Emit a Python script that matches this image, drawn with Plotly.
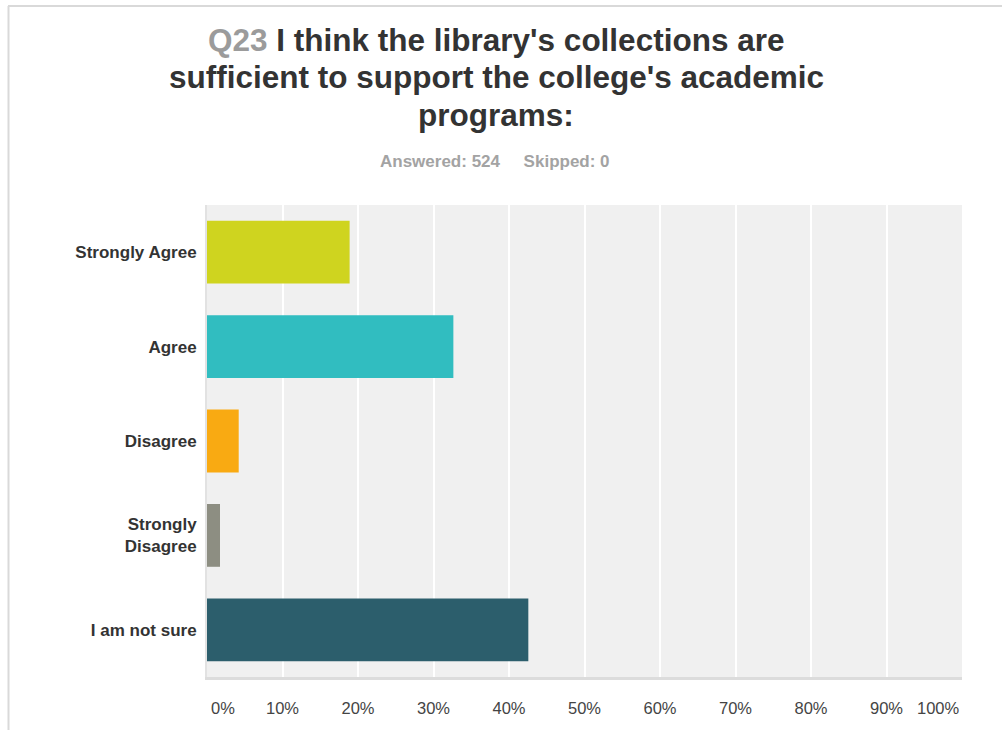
import plotly.graph_objects as go

# Survey responses (percent of 524 answered)
categories = ["Strongly Agree", "Agree", "Disagree", "Strongly<br>Disagree", "I am not sure"]
percent = [18.89, 32.63, 4.20, 1.72, 42.56]
bar_colors = ["#cfd41f", "#31bdc0", "#f9aa12", "#8d8e82", "#2c5e6c"]
tick_values = [10, 20, 30, 40, 50, 60, 70, 80, 90]
tick_labels = ["10%", "20%", "30%", "40%", "50%", "60%", "70%", "80%", "90%"]
answered = 524
skipped = 0
title_lines = [
    "<span style='color:#9b9b9b'>Q23</span> I think the library's collections are",
    "sufficient to support the college's academic",
    "programs:",
]

W, H = 1002, 730
M_L, M_R, M_T, M_B = 207, 40, 205, 53
PW, PH = W - M_L - M_R, H - M_T - M_B


def px_to_paper_x(px):
    return (px - M_L) / PW


def px_to_paper_y(py):
    return (H - M_B - py) / PH


FONT = "Liberation Sans, Arial, sans-serif"

fig = go.Figure(
    go.Bar(
        x=percent,
        y=categories,
        orientation="h",
        marker=dict(color=bar_colors, line=dict(width=0)),
        hovertemplate="%{y}: %{x:.2f}%<extra></extra>",
    )
)

fig.update_layout(
    width=W,
    height=H,
    margin=dict(l=M_L, r=M_R, t=M_T, b=M_B),
    paper_bgcolor="white",
    plot_bgcolor="#f0f0f0",
    bargap=0.335,
    showlegend=False,
    font=dict(family=FONT),
)

fig.update_xaxes(
    range=[0, 100],
    tickvals=tick_values,
    ticktext=tick_labels,
    tickfont=dict(family=FONT, size=16.5, color="#444444"),
    ticks="",
    ticklabelstandoff=14,
    showgrid=True,
    gridcolor="white",
    gridwidth=2,
    zeroline=False,
    showline=True,
    linecolor="#dcdcdc",
    linewidth=3,
    fixedrange=True,
)

fig.update_yaxes(
    autorange="reversed",
    tickfont=dict(family=FONT, size=17, color="#333333", weight="bold"),
    ticks="",
    ticklabelstandoff=5,
    showgrid=False,
    zeroline=False,
    showline=True,
    linecolor="#e2e2e2",
    linewidth=2,
    fixedrange=True,
)

# Title, one line per annotation so the line spacing stays tight
for text, cy in zip(title_lines, [40, 77, 115]):
    fig.add_annotation(
        x=px_to_paper_x(496), xref="paper",
        y=px_to_paper_y(cy), yref="paper",
        text=text, showarrow=False, xanchor="center", yanchor="middle",
        font=dict(family=FONT, size=31.5, color="#333333", weight="bold"),
    )

# End labels of the percent axis sit inside the plot edges
for val, label, anchor in [(0, "0%", "left"), (100, "100%", "right")]:
    fig.add_annotation(
        x=val, xref="x", y=0, yref="paper",
        text=label, showarrow=False,
        xanchor=anchor, yanchor="middle", yshift=-31,
        xshift=2 if anchor == "left" else 0,
        font=dict(family=FONT, size=16.5, color="#444444"),
    )

# Response counts under the title
fig.add_annotation(
    x=px_to_paper_x(495), xref="paper",
    y=px_to_paper_y(161), yref="paper",
    text=f"Answered: {answered}&nbsp;&nbsp;&nbsp;&nbsp;&nbsp;Skipped: {skipped}",
    showarrow=False, xanchor="center", yanchor="middle",
    font=dict(family=FONT, size=17, color="#a3a3a3", weight="bold"),
)

# Light frame along the top and left edges of the card
frame = dict(color="#d9d9d9", width=2)
fig.add_shape(type="line", xref="paper", yref="paper",
              x0=px_to_paper_x(8), x1=px_to_paper_x(W + 5),
              y0=px_to_paper_y(6), y1=px_to_paper_y(6), line=frame)
fig.add_shape(type="line", xref="paper", yref="paper",
              x0=px_to_paper_x(8.5), x1=px_to_paper_x(8.5),
              y0=px_to_paper_y(6), y1=px_to_paper_y(H + 5), line=frame)

fig.write_html("out.html", config={"displayModeBar": False})
